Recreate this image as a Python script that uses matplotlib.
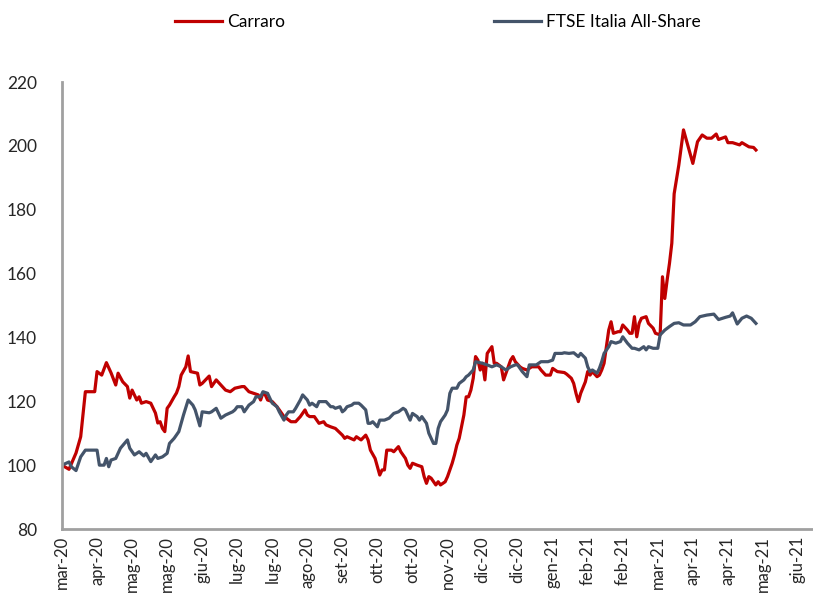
import matplotlib
matplotlib.use("Agg")
import matplotlib.pyplot as plt
from matplotlib.transforms import ScaledTranslation

# ---- data (session index since start, index value base 100) ----
carraro_x = [0, 3, 6, 8, 10, 14, 15, 17, 19, 21, 23, 24, 26, 28, 29, 30, 32, 33, 34, 36, 38, 40, 41, 42, 43, 44, 45, 46,
             48, 49, 50, 51, 53, 54, 55, 58, 59, 60, 63, 64, 66, 68, 70, 72, 74, 77, 78, 80, 82, 84, 85, 86, 87, 88, 90,
             92, 93, 95, 96, 98, 100, 102, 104, 105, 106, 108, 110, 112, 113, 115, 117, 120, 121, 122, 125, 126, 128,
             130, 131, 132, 134, 135, 136, 137, 138, 139, 141, 142, 144, 145, 147, 148, 149, 150, 152, 154, 155, 156,
             157, 158, 160, 161, 162, 164, 165, 167, 168, 169, 170, 172, 173, 174, 175, 176, 177, 178, 179, 180, 181,
             182, 184, 185, 186, 188, 189, 192, 193, 194, 196, 197, 199, 201, 204, 205, 207, 209, 210, 212, 215, 216,
             218, 219, 220, 221, 222, 224, 225, 226, 227, 229, 230, 231, 232, 233, 234, 235, 236, 238, 239, 240, 242,
             243, 244, 245, 246, 247, 248, 250, 251, 253, 254, 256, 257, 258, 259, 260, 261, 262, 264, 266, 268, 270,
             272, 274, 276, 278, 280, 281, 284, 285, 287, 290, 291, 294, 296, 297]
carraro_y = [100, 98.7, 103.8, 108.9, 123, 123, 129.3, 128.2, 132.1, 128.9, 125.1, 128.8, 126.1, 124.6, 121, 123.5,
             120.4, 121.4, 119.4, 119.9, 119.4, 116.3, 113.2, 113.6, 111.5, 110.5, 117.8, 118.8, 121.4, 122.6, 124.6,
             128.2, 130.8, 134.2, 129.3, 128.8, 125.1, 125.6, 127.9, 124.6, 126.7, 125.1, 123.5, 123, 124.1, 124.6,
             124.6, 123, 122.5, 122, 120.4, 122.6, 122, 120.4, 119.9, 118.3, 117.3, 115.2, 114.7, 113.6, 113.6, 115.2,
             117.3, 115.7, 115.2, 115.2, 113.1, 113.6, 112.6, 112, 111.5, 109.4, 108.4, 108.9, 107.9, 108.9, 107.9,
             109.4, 107.9, 104.7, 102.1, 99.5, 96.9, 98.5, 98.5, 104.7, 104.7, 104.2, 105.8, 104.2, 102.1, 100, 99,
             100.6, 100, 99.5, 96.4, 94.3, 96.4, 95.9, 93.8, 94.8, 93.8, 94.8, 96.4, 100.6, 103.2, 106.3, 108.4, 115.7,
             121.4, 121.4, 123.5, 127.2, 134, 132.9, 129.8, 131.9, 126.7, 135, 137.1, 131.9, 131.9, 130.8, 126.7,
             132.9, 134, 132.4, 130.8, 130.3, 129.8, 130.8, 130.8, 129.8, 128.2, 128.2, 130.3, 129.3, 129, 128.5,
             127.2, 125.6, 122.5, 119.9, 122.5, 126.1, 129.3, 128.2, 129.3, 127.7, 128.2, 129.8, 131.9, 137.1, 142.3,
             144.9, 141.3, 141.8, 141.8, 143.9, 142.3, 141.3, 141.3, 146.5, 140.2, 144.4, 146, 146.5, 144.4, 142.9,
             141.3, 140.8, 159, 152.2, 158, 163.2, 169.5, 185, 194, 205, 199.7, 194.5, 201.3, 203.4, 202.4, 202.4,
             203.7, 202, 202.8, 201, 201, 200.3, 201, 199.7, 199.5, 198.7]

ftse_x = [0, 3, 4, 6, 8, 10, 15, 16, 18, 19, 20, 21, 23, 25, 28, 29, 31, 33, 35, 36, 38, 40, 41, 43, 45, 46, 48, 50,
          52, 54, 56, 57, 59, 60, 63, 64, 66, 68, 70, 73, 74, 75, 77, 78, 80, 82, 83, 85, 86, 88, 89, 90, 92, 93, 95,
          96, 97, 99, 100, 102, 103, 105, 106, 107, 109, 110, 112, 113, 115, 116, 117, 119, 120, 121, 122, 124, 125,
          127, 128, 130, 131, 132, 133, 135, 136, 138, 140, 142, 144, 146, 147, 149, 150, 152, 153, 154, 156, 157,
          159, 160, 161, 162, 164, 165, 166, 167, 169, 170, 172, 173, 174, 176, 177, 180, 182, 184, 186, 188, 190,
          192, 194, 195, 197, 199, 200, 203, 205, 208, 210, 211, 214, 215, 217, 219, 221, 222, 224, 225, 226, 227,
          229, 230, 231, 232, 234, 235, 237, 239, 240, 242, 244, 245, 247, 249, 250, 251, 253, 255, 256, 258, 260,
          262, 264, 266, 269, 271, 273, 276, 279, 281, 284, 286, 287, 289, 291, 293, 295, 297]
ftse_y = [100, 101, 99.5, 98.3, 102.6, 104.7, 104.7, 100, 100, 102.1, 99.5, 101.6, 102.1, 105.3, 107.9, 105.3, 103.2,
          104.2, 102.9, 103.7, 101.1, 103.2, 102.1, 102.6, 103.7, 106.8, 108.4, 110.5, 115.7, 120.4, 118.8, 117.3,
          112.3, 116.7, 116.4, 116.7, 117.8, 114.7, 115.7, 116.7, 117.3, 118.3, 118.3, 116.7, 118.8, 119.9, 121.4,
          121.4, 123, 122.5, 120.9, 119.4, 118.3, 116.7, 114.1, 115.7, 116.7, 116.7, 117.8, 120.4, 122, 120.4, 118.8,
          119.4, 118.3, 119.9, 119.9, 119.9, 118.3, 118.3, 117.8, 118.3, 116.7, 117.3, 118.3, 118.8, 119.4, 119.4,
          118.8, 117.3, 113.1, 113.1, 113.6, 112, 114.1, 114.1, 114.7, 116.2, 116.7, 117.8, 117.3, 114.1, 116.2,
          115.2, 114.1, 115.2, 113.1, 110, 106.8, 106.8, 111.5, 113.6, 115.7, 117.3, 122.5, 124.1, 124.1, 125.6,
          126.7, 127.7, 128.2, 129.8, 132.4, 131.9, 131.4, 130.8, 131.4, 130.8, 129.8, 130.8, 131.4, 131.4, 129.3,
          127.7, 131.4, 131.4, 132.4, 132.4, 132.9, 135, 135, 135.2, 135, 135.2, 134, 135, 133.5, 130.8, 129.3,
          129.8, 128.8, 130.3, 132.4, 135, 137.1, 138.7, 138.2, 138.7, 140.2, 138.2, 136.6, 136.6, 136.1, 137.1,
          136.1, 137.1, 136.6, 136.6, 140.8, 142.3, 143.4, 144.4, 144.6, 143.9, 143.9, 144.9, 146.5, 147, 147.3,
          145.6, 146.3, 146.7, 147.7, 144.2, 146, 146.7, 146, 144.4]

tick_labels = ["mar-20", "apr-20", "mag-20", "mag-20", "giu-20", "lug-20", "lug-20", "ago-20", "set-20", "ott-20",
               "ott-20", "nov-20", "dic-20", "dic-20", "gen-21", "feb-21", "feb-21", "mar-21", "apr-21", "apr-21",
               "mag-21", "giu-21"]
tick_step = 15
n_categories = 321

series_names = ["Carraro", "FTSE Italia All-Share"]
colors = ["#C00000", "#44546A"]

plt.rcParams['font.family'] = ['Lato', 'DejaVu Sans']

fig = plt.figure(figsize=(8.13, 6.01), dpi=100)
ax = fig.add_axes([62/813, 1 - 529/601, (812-62)/813, (529-82)/601])

ax.plot(carraro_x, carraro_y, color=colors[0], lw=2.3, label=series_names[0], solid_joinstyle='round')
ax.plot(ftse_x, ftse_y, color=colors[1], lw=2.3, label=series_names[1], solid_joinstyle='round')

ax.set_xlim(0, n_categories)
ax.set_ylim(80, 220)
ax.set_yticks(range(80, 221, 20))
ticks = [i * tick_step for i in range(len(tick_labels))]
ax.set_xticks(ticks)
ax.set_xticklabels(tick_labels, rotation=90, fontsize=12, color='#262626')
offset = ScaledTranslation(4/100, 0, fig.dpi_scale_trans)
for lbl in ax.get_xticklabels():
    lbl.set_transform(lbl.get_transform() + offset)
for lbl in ax.get_yticklabels():
    lbl.set_fontsize(12.5)
    lbl.set_color('#262626')

ax.tick_params(axis='x', length=0, pad=5)
ax.tick_params(axis='y', length=0, pad=18)
for s in ['top', 'right']:
    ax.spines[s].set_visible(False)
for s in ['left', 'bottom']:
    ax.spines[s].set_color('#A0A0A0')
    ax.spines[s].set_linewidth(2.0)

fig.legend(loc='center', bbox_to_anchor=(438/813, 1 - 22/601), ncol=2, frameon=False,
           fontsize=12.5, handlelength=2.7, handletextpad=0.3, columnspacing=12.0,
           borderpad=0, borderaxespad=0)

fig.savefig("out.png", dpi=100)
